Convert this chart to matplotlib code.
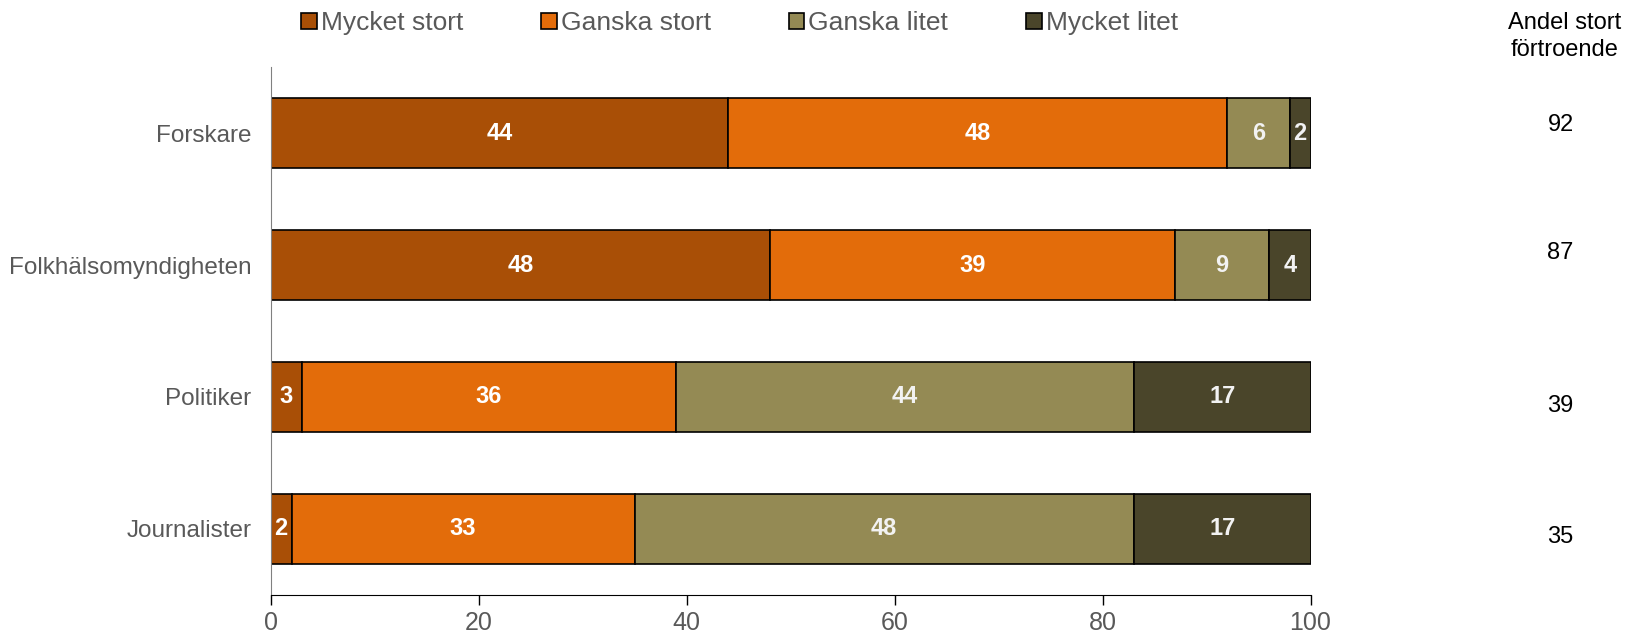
import matplotlib
matplotlib.use("Agg")
import matplotlib.pyplot as plt
import numpy as np

plt.rcParams["font.family"] = ["Liberation Sans", "DejaVu Sans"]

categories = ["Forskare", "Folkhälsomyndigheten", "Politiker", "Journalister"]
series = ["Mycket stort", "Ganska stort", "Ganska litet", "Mycket litet"]
mycket_stort = [44, 48, 3, 2]
ganska_stort = [48, 39, 36, 33]
ganska_litet = [6, 9, 44, 48]
mycket_litet = [2, 4, 17, 17]
andel_stort = [92, 87, 39, 35]

colors = ["#A94F06", "#E36C0A", "#948A54", "#4A452A"]
text_colors = ["white", "white", "#F2F2F2", "#F2F2F2"]
side_dy = [-0.06, -0.09, 0.07, 0.06]   # the side column is not quite aligned in the original

fig = plt.figure(figsize=(16.27, 6.33), dpi=100)
ax = fig.add_axes([0.1664, 0.0607, 0.6391, 0.8327])

ypos = np.arange(len(categories))
left = np.zeros(len(categories))
handles = []
for name, vals, col, tc in zip(series, [mycket_stort, ganska_stort, ganska_litet, mycket_litet],
                               colors, text_colors):
    vals = np.array(vals, dtype=float)
    bars = ax.barh(ypos, vals, left=left, height=0.53, color=col,
                   edgecolor="black", linewidth=1.2, label=name)
    handles.append(bars)
    for b, v in zip(bars, vals):
        ax.text(b.get_x() + b.get_width() / 2, b.get_y() + b.get_height() / 2,
                f"{v:.0f}", ha="center", va="center", color=tc,
                fontsize=17, fontweight="bold")
    left += vals

ax.set_xlim(0, 100)
ax.set_ylim(3.5, -0.5)
ax.set_xticks([0, 20, 40, 60, 80, 100])
ax.set_yticks(ypos)
ax.set_yticklabels(categories)
ax.tick_params(axis="y", length=0, pad=14, labelsize=17.5, labelcolor="#595959")
ax.tick_params(axis="x", length=7, direction="out", labelsize=18, labelcolor="#595959",
               color="black", width=1, pad=5)
for s in ["top", "right"]:
    ax.spines[s].set_visible(False)
ax.spines["left"].set_color("#808080")
ax.spines["bottom"].set_color("black")

# right-hand column
fig.text(0.9615, 0.943, "Andel stort\nförtroende", ha="center", va="center",
         fontsize=17, linespacing=1.3)
for y, v, dy in zip(ypos, andel_stort, side_dy):
    ax.text(1.2405, y + dy, f"{v}", transform=ax.get_yaxis_transform(),
            ha="center", va="center", fontsize=17)

fig.legend(handles=handles, labels=series, loc="center", ncol=4,
           bbox_to_anchor=(0.4545, 0.963), frameon=False, fontsize=19,
           handlelength=0.6, handleheight=0.6, handletextpad=0.15,
           columnspacing=2.95, labelcolor="#595959")

fig.savefig("out.png", dpi=100)
